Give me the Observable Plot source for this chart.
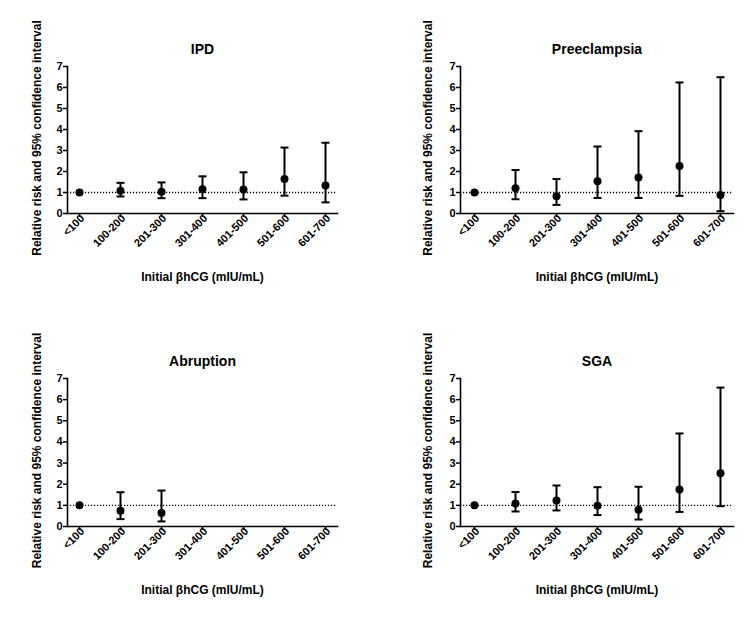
<!DOCTYPE html>
<html>
<head>
<meta charset="utf-8">
<script src="https://cdn.jsdelivr.net/npm/d3@7"></script>
<script src="https://cdn.jsdelivr.net/npm/@observablehq/plot@0.6"></script>
<style>
  html, body { margin: 0; padding: 0; background: #fff; }
  #wrap { position: relative; width: 750px; height: 618px; }
  #wrap > div { position: absolute; }
</style>
</head>
<body>
<div id="wrap">
  <div id="p1" style="left:0;top:0"></div>
  <div id="p2" style="left:375px;top:0"></div>
  <div id="p3" style="left:0;top:309px"></div>
  <div id="p4" style="left:375px;top:309px"></div>
</div>
<script>
const categories = ["<100", "100-200", "201-300", "301-400", "401-500", "501-600", "601-700"];
const yTicks = [0, 1, 2, 3, 4, 5, 6, 7];
const yLabel = "Relative risk and 95% confidence interval";
const xLabel = "Initial \u03B2hCG (mIU/mL)";

const ipdRR = [1, 1.08, 1.03, 1.15, 1.14, 1.64, 1.33];
const ipdLo = [null, 0.81, 0.73, 0.73, 0.67, 0.85, 0.53];
const ipdHi = [null, 1.46, 1.48, 1.77, 1.96, 3.14, 3.37];

const preRR = [1, 1.2, 0.82, 1.53, 1.72, 2.26, 0.88];
const preLo = [null, 0.68, 0.41, 0.74, 0.74, 0.84, 0.11];
const preHi = [null, 2.07, 1.64, 3.19, 3.92, 6.24, 6.49];

const abrRR = [1, 0.74, 0.64, null, null, null, null];
const abrLo = [null, 0.35, 0.24, null, null, null, null];
const abrHi = [null, 1.62, 1.70, null, null, null, null];

const sgaRR = [1, 1.09, 1.23, 0.98, 0.79, 1.75, 2.52];
const sgaLo = [null, 0.71, 0.76, 0.54, 0.33, 0.69, 0.96];
const sgaHi = [null, 1.63, 1.94, 1.86, 1.88, 4.40, 6.57];

// horizontal cap symbol for error bars
const capSymbol = {
  draw(context, size) {
    const h = Math.sqrt(size / Math.PI);
    context.moveTo(-h, 0);
    context.lineTo(h, 0);
  }
};

function panel({title, rr, lo, hi, ml, mr, mt, mb, inset, labelDx}) {
  const data = categories.map((c, i) => ({cat: c, rr: rr[i], lo: lo[i], hi: hi[i]}));
  const bars = data.filter(d => d.lo != null && d.hi != null);
  const pts = data.filter(d => d.rr != null);
  return Plot.plot({
    width: 375,
    height: 309,
    marginLeft: ml, marginRight: mr, marginTop: mt, marginBottom: mb,
    style: {fontFamily: "'Liberation Sans', Arial, sans-serif", fontWeight: "bold", fontSize: "11px", color: "black", background: "white"},
    x: {type: "point", domain: categories, padding: 0, inset: inset, label: null},
    y: {domain: [0, 7], label: null},
    marks: [
      Plot.ruleY([1], {strokeDasharray: "1.2,1.8", strokeWidth: 1.3}),
      Plot.ruleX(bars, {x: "cat", y1: "lo", y2: "hi", strokeWidth: 2}),
      Plot.dot(bars, {x: "cat", y: "lo", symbol: capSymbol, r: 4, fill: "none", stroke: "black", strokeWidth: 2}),
      Plot.dot(bars, {x: "cat", y: "hi", symbol: capSymbol, r: 4, fill: "none", stroke: "black", strokeWidth: 2}),
      Plot.dot(pts, {x: "cat", y: "rr", r: 4, fill: "black", stroke: "none"}),
      Plot.axisY({ticks: yTicks, tickFormat: d => String(d), tickSize: 4, tickPadding: 1, strokeWidth: 1.5, label: null, fontSize: 11}),
      Plot.axisX({tickSize: 4, fill: "none", strokeWidth: 1.5, label: null}),
      Plot.axisX({tickRotate: -45, tickSize: 4, tickPadding: 0, stroke: "none", dx: 3, dy: -1, label: null, fontSize: 11}),
      Plot.frame({anchor: "left", strokeWidth: 1.6}),
      Plot.frame({anchor: "bottom", strokeWidth: 1.6}),
      Plot.text([title], {text: d => d, frameAnchor: "top", dy: -22, fontSize: 14, fontWeight: "bold"}),
      Plot.text([yLabel], {text: d => d, frameAnchor: "left", rotate: -90, dx: labelDx, dy: -2, fontSize: 12, fontWeight: "bold", textAnchor: "middle"}),
      Plot.text([xLabel], {text: d => d, frameAnchor: "bottom", dy: 67, fontSize: 12, fontWeight: "bold"})
    ]
  });
}

document.getElementById("p1").append(panel({title: "IPD", rr: ipdRR, lo: ipdLo, hi: ipdHi, ml: 67, mr: 38, mt: 66, mb: 96, inset: 12, labelDx: -30}));
document.getElementById("p2").append(panel({title: "Preeclampsia", rr: preRR, lo: preLo, hi: preHi, ml: 85, mr: 17, mt: 66, mb: 96, inset: 13, labelDx: -32}));
document.getElementById("p3").append(panel({title: "Abruption", rr: abrRR, lo: abrLo, hi: abrHi, ml: 67, mr: 38, mt: 69, mb: 92, inset: 12, labelDx: -30}));
document.getElementById("p4").append(panel({title: "SGA", rr: sgaRR, lo: sgaLo, hi: sgaHi, ml: 85, mr: 17, mt: 69, mb: 92, inset: 13, labelDx: -32}));
</script>
</body>
</html>
